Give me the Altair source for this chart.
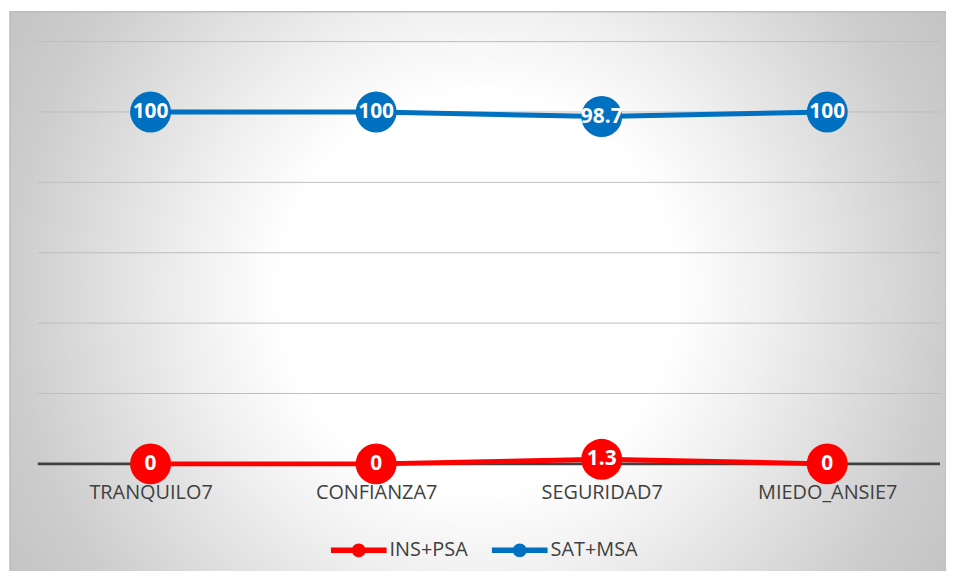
import altair as alt
import pandas as pd

categories = ["TRANQUILO7", "CONFIANZA7", "SEGURIDAD7", "MIEDO_ANSIE7"]
series_names = ["INS+PSA", "SAT+MSA"]
ins_psa = [0, 0, 1.3, 0]
sat_msa = [100, 100, 98.7, 100]
grid_values = [20, 40, 60, 80, 100, 120]
colors = ["#FF0000", "#0070C0"]

rows = []
for name, vals in zip(series_names, [ins_psa, sat_msa]):
    for c, v in zip(categories, vals):
        rows.append({"cat": c, "serie": name, "valor": v, "label": f"{v:g}"})
df = pd.DataFrame(rows)
grid_df = pd.DataFrame({"g": grid_values})

W, H = 908, 425
FONT = "Open Sans"
BGW = W + 34

bg = alt.Chart(pd.DataFrame({"a": [0]})).mark_rect(
    fill=alt.RadialGradient(
        gradient="radial",
        x1=0.5, y1=0.3, r1=0,
        x2=0.5, y2=0.3, r2=0.6,
        stops=[
            alt.GradientStop(offset=0, color="#ffffff"),
            alt.GradientStop(offset=0.35, color="#ffffff"),
            alt.GradientStop(offset=0.5, color="#f1f1f1"),
            alt.GradientStop(offset=0.83, color="#cdcdcd"),
            alt.GradientStop(offset=1, color="#c2c2c2"),
        ],
    ),
    stroke="#bdbdbd", strokeWidth=1.5,
).encode(
    x=alt.value(-28), x2=alt.value(W + 6),
    y=alt.value(-30), y2=alt.value(-30 + BGW),
)

yscale = alt.Scale(domain=[0, 120])
xscale = alt.Scale(domain=categories, paddingOuter=0.5, paddingInner=0)

grid = alt.Chart(grid_df).mark_rule(color="#bdbdbd", strokeWidth=1).encode(
    y=alt.Y("g:Q", scale=yscale, axis=None),
    x=alt.value(0), x2=alt.value(W),
)
base_rule = alt.Chart(pd.DataFrame({"g": [0]})).mark_rule(color="#404040", strokeWidth=3).encode(
    y=alt.Y("g:Q", scale=yscale, axis=None),
    x=alt.value(0), x2=alt.value(W),
)

xenc = alt.X(
    "cat:N", sort=categories, scale=xscale, title=None,
    axis=alt.Axis(
        labelAngle=0, domain=False, ticks=False, grid=False,
        labelFontSize=20, labelColor="#404040", labelFont=FONT,
        labelPadding=19, zindex=2,
    ),
)
yenc = alt.Y("valor:Q", scale=yscale, axis=None)

cscale = alt.Scale(domain=series_names, range=colors)

legend_path = (
    "M-1,-0.1 H1 V0.1 H-1 Z "
    "M-0.25,0 A0.25,0.25 0 1,1 0.25,0 A0.25,0.25 0 1,1 -0.25,0 Z"
)
leg = alt.Legend(orient="none", legendX=295, legendY=484, direction="horizontal")

lines = alt.Chart(df).mark_line(strokeWidth=5, strokeCap="round").encode(
    x=xenc, y=yenc,
    color=alt.Color("serie:N", scale=cscale, sort=series_names, title=None, legend=leg),
)

points = alt.Chart(df).mark_point(size=1700, opacity=1, filled=True).encode(
    x=xenc, y=yenc,
    color=alt.Color("serie:N", scale=cscale, sort=series_names, title=None, legend=leg),
)

texts = alt.Chart(df).mark_text(
    color="white", fontWeight="bold", fontSize=21, font=FONT, baseline="middle", align="center",
).encode(x=xenc, y=yenc, text="label:N")

chart = alt.layer(bg, grid, base_rule, lines, points, texts).properties(
    width=W, height=H,
    autosize=alt.AutoSizeParams(type="none"),
    padding={"left": 30, "top": 32, "right": 6, "bottom": 106},
).configure_view(stroke=None).configure_legend(
    symbolType=legend_path, symbolSize=3136, symbolStrokeWidth=0,
    symbolOpacity=1,
    labelFontSize=20, labelFont=FONT, labelColor="#404040",
    labelOffset=3, columnPadding=24, zindex=3,
)

chart.save("out.html", embed_options={"renderer": "svg", "actions": False})
